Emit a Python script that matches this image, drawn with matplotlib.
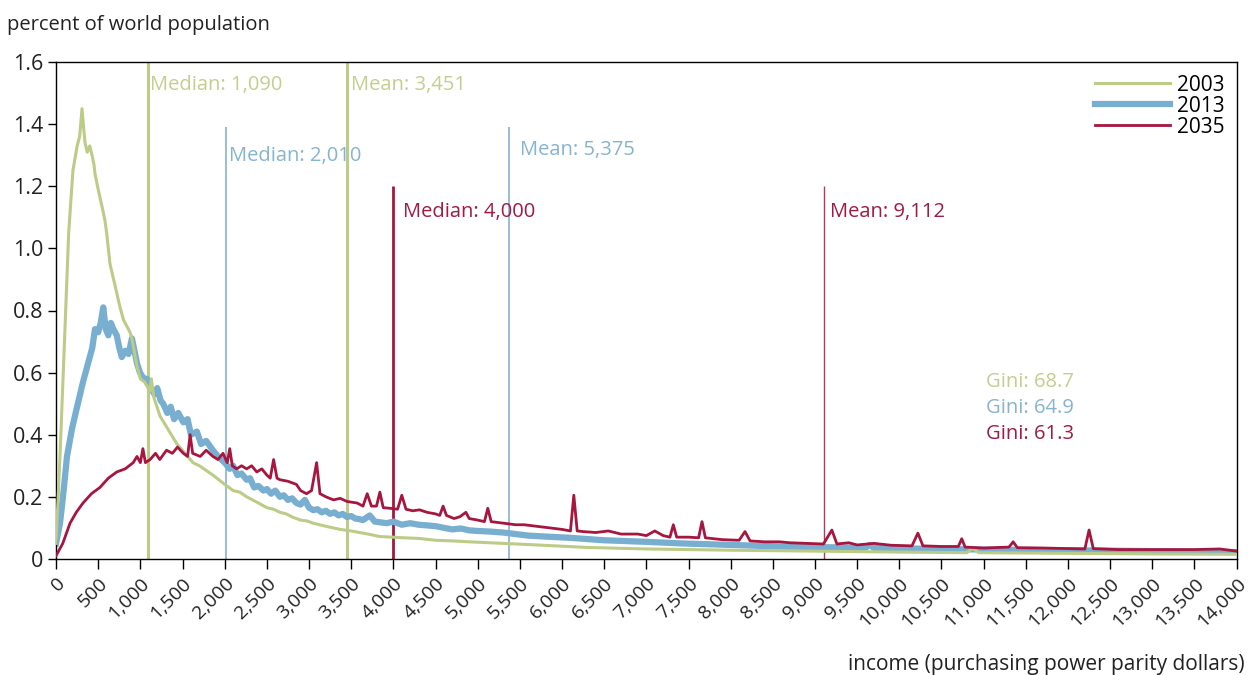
import matplotlib
matplotlib.use("Agg")
import matplotlib.pyplot as plt

plt.rcParams['font.family'] = ['Open Sans', 'DejaVu Sans']

# income (PPP dollars) and percent of world population
income_2003 = [0, 50, 100, 150, 200, 250, 280, 308, 330, 344, 370, 400, 427, 450, 462, 500, 557, 580,
               600, 640, 700, 759, 800, 877, 900, 960, 1000, 1050, 1114, 1130, 1160, 1233, 1300, 1434,
               1500, 1624, 1700, 1780, 1860, 1930, 2000, 2100, 2180, 2260, 2330, 2400, 2500, 2580,
               2655, 2730, 2800, 2900, 2980, 3050, 3200, 3370, 3500, 3700, 3840, 4000, 4120, 4300,
               4500, 4700, 4900, 5300, 5700, 6290, 7000, 8000, 9000, 10000, 10800, 10870, 10940,
               12000, 13000, 14000]
share_2003 = [0.05, 0.35, 0.70, 1.05, 1.25, 1.33, 1.36, 1.45, 1.38, 1.34, 1.31, 1.33, 1.30, 1.27, 1.24,
              1.19, 1.12, 1.09, 1.05, 0.95, 0.88, 0.81, 0.77, 0.73, 0.71, 0.62, 0.58, 0.57, 0.54, 0.58,
              0.52, 0.46, 0.43, 0.37, 0.35, 0.31, 0.30, 0.285, 0.27, 0.255, 0.24, 0.22, 0.215, 0.20,
              0.19, 0.18, 0.165, 0.16, 0.15, 0.145, 0.135, 0.125, 0.122, 0.115, 0.105, 0.095, 0.09,
              0.08, 0.072, 0.07, 0.068, 0.066, 0.06, 0.058, 0.055, 0.05, 0.045, 0.037, 0.032, 0.028,
              0.025, 0.022, 0.02, 0.035, 0.02, 0.018, 0.016, 0.015]

income_2013 = [0, 47, 90, 130, 190, 250, 320, 360, 400, 430, 462, 500, 530, 560, 590, 620, 650, 680,
               720, 750, 780, 820, 860, 900, 930, 960, 995, 1040, 1075, 1120, 1170, 1200, 1240, 1270,
               1320, 1360, 1400, 1450, 1510, 1560, 1600, 1670, 1720, 1780, 1860, 1920, 2000, 2060,
               2100, 2150, 2200, 2260, 2300, 2350, 2400, 2460, 2500, 2550, 2600, 2655, 2700, 2750,
               2800, 2850, 2900, 2950, 3000, 3050, 3100, 3150, 3200, 3250, 3300, 3350, 3400, 3450,
               3500, 3550, 3600, 3640, 3720, 3780, 3840, 3920, 4000, 4100, 4200, 4300, 4400, 4510,
               4600, 4700, 4800, 4900, 5000, 5150, 5300, 5450, 5600, 5800, 6090, 6500, 7000, 7400,
               8000, 8580, 9000, 9600, 9650, 9700, 10000, 11000, 12000, 13000, 14000]
share_2013 = [0.05, 0.115, 0.22, 0.33, 0.42, 0.49, 0.57, 0.61, 0.65, 0.68, 0.74, 0.73, 0.76, 0.81,
              0.74, 0.72, 0.76, 0.74, 0.72, 0.68, 0.65, 0.67, 0.66, 0.71, 0.67, 0.63, 0.60, 0.58, 0.58,
              0.55, 0.53, 0.55, 0.51, 0.50, 0.47, 0.49, 0.45, 0.47, 0.44, 0.45, 0.40, 0.41, 0.37, 0.38,
              0.35, 0.33, 0.31, 0.29, 0.30, 0.27, 0.275, 0.255, 0.26, 0.23, 0.235, 0.22, 0.225, 0.21,
              0.22, 0.20, 0.205, 0.19, 0.195, 0.18, 0.175, 0.19, 0.165, 0.157, 0.16, 0.15, 0.155,
              0.145, 0.15, 0.14, 0.145, 0.135, 0.138, 0.13, 0.128, 0.125, 0.14, 0.12, 0.118, 0.115,
              0.12, 0.11, 0.115, 0.11, 0.108, 0.105, 0.10, 0.095, 0.098, 0.092, 0.09, 0.088, 0.085,
              0.08, 0.075, 0.072, 0.068, 0.06, 0.055, 0.05, 0.045, 0.04, 0.038, 0.036, 0.045, 0.035,
              0.034, 0.03, 0.028, 0.025, 0.022]

income_2035 = [0, 80, 166, 240, 320, 420, 520, 620, 720, 820, 915, 960, 1000, 1030, 1060, 1115, 1180,
               1230, 1310, 1380, 1440, 1510, 1560, 1590, 1620, 1710, 1780, 1860, 1920, 1980, 2030,
               2060, 2090, 2140, 2200, 2260, 2320, 2380, 2440, 2500, 2540, 2580, 2620, 2655, 2750,
               2850, 2900, 2970, 3030, 3090, 3130, 3200, 3290, 3370, 3450, 3570, 3640, 3690, 3740,
               3800, 3840, 3880, 3960, 4050, 4100, 4150, 4230, 4310, 4400, 4500, 4550, 4590, 4630,
               4720, 4790, 4860, 4900, 5000, 5080, 5120, 5160, 5300, 5450, 5550, 5700, 5850, 6000,
               6100, 6140, 6180, 6250, 6400, 6550, 6700, 6900, 7000, 7100, 7200, 7280, 7320, 7360,
               7500, 7620, 7660, 7700, 7900, 8100, 8170, 8230, 8400, 8580, 8700, 8900, 9100, 9200,
               9260, 9400, 9500, 9700, 9900, 10150, 10220, 10280, 10500, 10700, 10740, 10780, 11000,
               11300, 11350, 11400, 11700, 12000, 12200, 12250, 12300, 12600, 13000, 13500, 13800,
               14000]
share_2035 = [0.01, 0.05, 0.115, 0.15, 0.18, 0.21, 0.23, 0.26, 0.28, 0.29, 0.31, 0.33, 0.31, 0.355,
              0.31, 0.32, 0.34, 0.32, 0.35, 0.34, 0.36, 0.34, 0.33, 0.40, 0.34, 0.33, 0.35, 0.33, 0.32,
              0.34, 0.31, 0.355, 0.30, 0.29, 0.30, 0.29, 0.30, 0.28, 0.29, 0.27, 0.26, 0.32, 0.26,
              0.255, 0.25, 0.24, 0.22, 0.21, 0.22, 0.31, 0.21, 0.20, 0.19, 0.195, 0.185, 0.18, 0.17,
              0.21, 0.17, 0.17, 0.215, 0.165, 0.163, 0.16, 0.205, 0.16, 0.155, 0.158, 0.15, 0.145,
              0.14, 0.17, 0.14, 0.13, 0.136, 0.15, 0.13, 0.125, 0.12, 0.163, 0.12, 0.115, 0.11, 0.11,
              0.105, 0.10, 0.095, 0.09, 0.205, 0.09, 0.088, 0.085, 0.09, 0.08, 0.08, 0.075, 0.09,
              0.075, 0.07, 0.11, 0.07, 0.07, 0.068, 0.12, 0.068, 0.062, 0.06, 0.088, 0.058, 0.055,
              0.055, 0.052, 0.05, 0.048, 0.093, 0.048, 0.052, 0.045, 0.05, 0.044, 0.042, 0.083, 0.042,
              0.04, 0.04, 0.065, 0.038, 0.035, 0.038, 0.055, 0.036, 0.035, 0.033, 0.032, 0.093, 0.033,
              0.03, 0.03, 0.03, 0.032, 0.025]

years = ['2003', '2013', '2035']
medians = [1090, 2010, 4000]
means = [3451, 5375, 9112]
marker_tops = [1.6, 1.39, 1.2]
ginis = [68.7, 64.9, 61.3]

green = '#bccb86'
blue = '#78aed0'
red = '#a6163f'
green_txt = '#c2cf8e'
blue_txt = '#86b4cf'
red_txt = '#a01a42'

fig = plt.figure(figsize=(12.48, 6.75), dpi=100)
ax = fig.add_axes([0.0449, 0.172, 0.946, 0.736])

# median / mean markers
ax.vlines([medians[0], means[0]], 0, marker_tops[0], color=green, lw=2.2)
ax.vlines([medians[1], means[1]], 0, marker_tops[1], color='#8fb8d2', lw=1.3)
ax.vlines(medians[2], 0, marker_tops[2], color=red, lw=2.0)
ax.vlines(means[2], 0, marker_tops[2], color=red, lw=1.0, alpha=0.85)

ax.plot(income_2003, share_2003, color=green, lw=2.2, label=years[0], zorder=3)
ax.plot(income_2013, share_2013, color=blue, lw=4.5, label=years[1], zorder=2)
ax.plot(income_2035, share_2035, color=red, lw=2.0, label=years[2], zorder=4)

fs = 14.5
ax.text(medians[0] + 20, 1.51, f'Median: {medians[0]:,}', color=green_txt, fontsize=fs)
ax.text(means[0] + 50, 1.51, f'Mean: {means[0]:,}', color=green_txt, fontsize=fs)
ax.text(medians[1] + 40, 1.28, f'Median: {medians[1]:,}', color=blue_txt, fontsize=fs)
ax.text(means[1] + 130, 1.30, f'Mean: {means[1]:,}', color=blue_txt, fontsize=fs)
ax.text(medians[2] + 110, 1.10, f'Median: {medians[2]:,}', color=red_txt, fontsize=fs)
ax.text(means[2] + 60, 1.10, f'Mean: {means[2]:,}', color=red_txt, fontsize=fs)

for g, c, yy in zip(ginis, [green_txt, blue_txt, red_txt], [0.555, 0.47, 0.385]):
    ax.text(11030, yy, f'Gini: {g}', color=c, fontsize=fs)

ax.set_xlim(0, 14000)
ax.set_ylim(0, 1.6)
xt = list(range(0, 14001, 500))
ax.set_xticks(xt)
ax.set_xticklabels([f'{v:,}' for v in xt], rotation=45, ha='right', rotation_mode='anchor',
                   fontsize=14, color='#222222')
yt = [0, 0.2, 0.4, 0.6, 0.8, 1.0, 1.2, 1.4, 1.6]
ax.set_yticks(yt)
ax.set_yticklabels(['0'] + [f'{v:.1f}' for v in yt[1:]], fontsize=15.5, color='#222222')
ax.tick_params(axis='x', direction='out', length=7, width=1, pad=4)
ax.tick_params(axis='y', direction='out', length=6, width=1, pad=3)
for s in ax.spines.values():
    s.set_linewidth(1)

leg = ax.legend(loc='upper right', frameon=False, fontsize=15, handlelength=3.6,
                handletextpad=0.3, labelspacing=0.0, borderaxespad=0.2)

fig.text(0.006, 0.955, 'percent of world population', fontsize=14.5, color='#222222')
fig.text(0.997, 0.0, 'income (purchasing power parity dollars)', fontsize=15,
         color='#222222', ha='right', va='bottom')

fig.savefig('out.png', dpi=100)
